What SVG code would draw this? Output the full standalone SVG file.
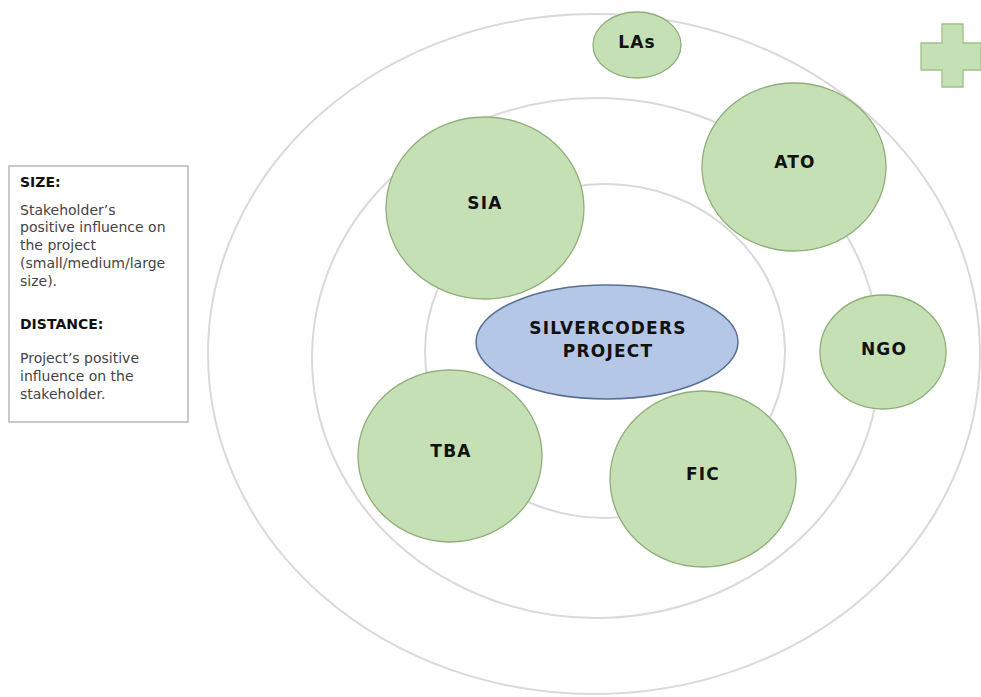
<svg xmlns="http://www.w3.org/2000/svg" width="981" height="697" viewBox="0 0 981 697">
<style>
.ring{fill:none;stroke:#d9d9d9;stroke-width:2}
.sh{fill:#c5e0b4;stroke:#8fae78;stroke-width:1.3}
.core{fill:#b4c7e7;stroke:#5b6f96;stroke-width:1.5}
.lbl{font-family:"DejaVu Sans",Verdana,sans-serif;font-weight:bold;font-size:17px;letter-spacing:1.2px;fill:#111;text-anchor:middle}
.lh{font-family:"DejaVu Sans",Verdana,sans-serif;font-weight:bold;font-size:14px;fill:#111}
.lt{font-family:"DejaVu Sans",Verdana,sans-serif;font-size:14px;fill:#444}
</style>
<rect width="981" height="697" fill="#ffffff"/>
<g id="rings">
<ellipse class="ring" cx="594" cy="354" rx="386" ry="340"/>
<ellipse class="ring" cx="596" cy="358" rx="284" ry="260"/>
<ellipse class="ring" cx="605" cy="351" rx="180" ry="167"/>
</g>
<g id="plus">
<polygon points="942,24 963,24 963,43 981,43 981,70 963,70 963,87 942,87 942,70 921,70 921,43 942,43" fill="#c5e0b4" stroke="#9cc283" stroke-width="1.3"/>
</g>
<g id="legend">
<rect x="9" y="166" width="179" height="256" fill="#ffffff" stroke="#a6a6a6" stroke-width="1.2"/>
<text class="lh" x="20" y="187">SIZE:</text>
<text class="lt" x="20" y="215">Stakeholder’s</text>
<text class="lt" x="20" y="232">positive influence on</text>
<text class="lt" x="20" y="250">the project</text>
<text class="lt" x="20" y="268">(small/medium/large</text>
<text class="lt" x="20" y="286">size).</text>
<text class="lh" x="20" y="329">DISTANCE:</text>
<text class="lt" x="20" y="363">Project’s positive</text>
<text class="lt" x="20" y="381">influence on the</text>
<text class="lt" x="20" y="399">stakeholder.</text>
</g>
<g id="node-LAs">
<ellipse class="sh" cx="637" cy="45" rx="44" ry="33"/>
<text class="lbl" x="637" y="48">LAs</text>
</g>
<g id="node-ATO">
<ellipse class="sh" cx="794" cy="167" rx="92" ry="84"/>
<text class="lbl" x="795" y="168">ATO</text>
</g>
<g id="node-SIA">
<ellipse class="sh" cx="485" cy="208" rx="99" ry="91"/>
<text class="lbl" x="485" y="209">SIA</text>
</g>
<g id="node-NGO">
<ellipse class="sh" cx="883" cy="352" rx="63" ry="57"/>
<text class="lbl" x="884" y="355">NGO</text>
</g>
<g id="node-TBA">
<ellipse class="sh" cx="450" cy="456" rx="92" ry="86"/>
<text class="lbl" x="451" y="457">TBA</text>
</g>
<g id="node-FIC">
<ellipse class="sh" cx="703" cy="479" rx="93" ry="88"/>
<text class="lbl" x="703" y="480">FIC</text>
</g>
<g id="node-project">
<ellipse class="core" cx="607" cy="342" rx="131" ry="57"/>
<text class="lbl" x="608" y="334">SILVERCODERS</text>
<text class="lbl" x="608" y="357">PROJECT</text>
</g>
</svg>
